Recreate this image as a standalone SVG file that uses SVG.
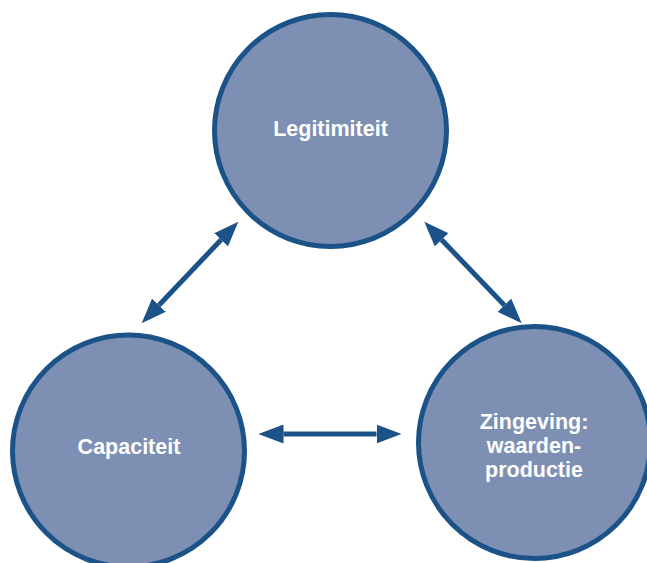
<svg xmlns="http://www.w3.org/2000/svg" width="647" height="563" viewBox="0 0 647 563">
  <style>
    .node { fill: #7d8fb3; stroke: #1b5287; stroke-width: 5; }
    .label { font-family: "Liberation Sans", Arial, Helvetica, sans-serif; font-weight: bold; font-size: 21.5px; fill: #ffffff; text-anchor: middle; }
    .link { stroke: #1b5287; stroke-width: 5; fill: none; marker-start: url(#head); marker-end: url(#head); }
  </style>
  <defs>
    <marker id="head" viewBox="0 0 25 19" refX="0" refY="9.5" markerWidth="25" markerHeight="19" markerUnits="userSpaceOnUse" orient="auto-start-reverse">
      <path d="M0,0 L25,9.5 L0,19 Z" fill="#1b5287"/>
    </marker>
  </defs>
  <rect width="647" height="563" fill="#ffffff"/>

  <g id="connectors">
    <line class="link" x1="158.9" y1="305.2" x2="221.1" y2="239.8"/>
    <line class="link" x1="441.6" y1="239.75" x2="504.4" y2="305.25"/>
    <line class="link" x1="283.5" y1="434" x2="376.5" y2="434"/>
  </g>

  <g id="legitimiteit">
    <circle class="node" cx="330.5" cy="130.5" r="116"/>
    <text class="label" x="330.5" y="136">Legitimiteit</text>
  </g>

  <g id="capaciteit">
    <circle class="node" cx="128.5" cy="451" r="116"/>
    <text class="label" x="129" y="454">Capaciteit</text>
  </g>

  <g id="zingeving">
    <circle class="node" cx="534.5" cy="442.5" r="116"/>
    <text class="label" x="534" y="428.5">Zingeving:</text>
    <text class="label" x="534" y="452.5">waarden-</text>
    <text class="label" x="534" y="476.5">productie</text>
  </g>
</svg>
